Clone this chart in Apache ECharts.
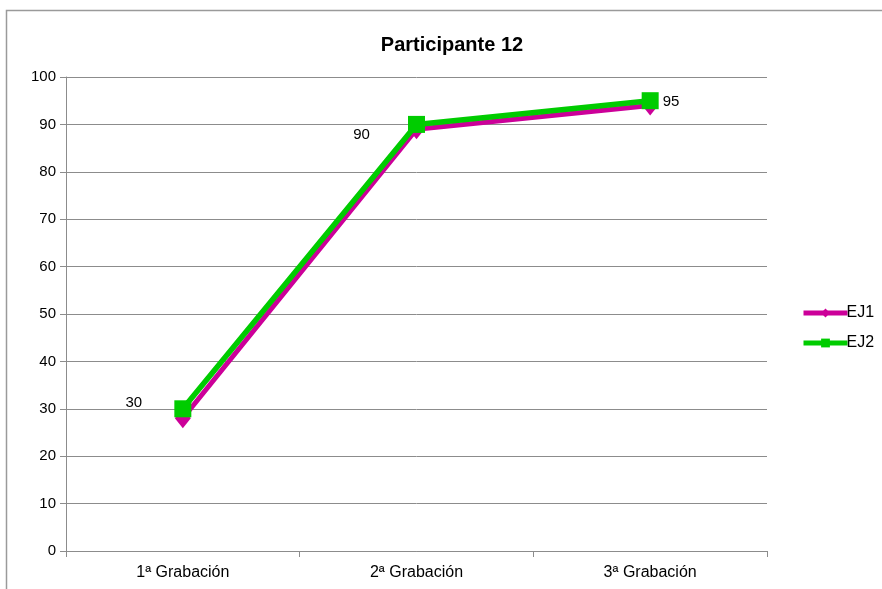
<!DOCTYPE html>
<html>
<head>
<meta charset="utf-8">
<script src="https://cdn.jsdelivr.net/npm/echarts@6/dist/echarts.min.js"></script>
<style>
  html, body { margin: 0; padding: 0; background: #fff; }
  #chart { width: 882px; height: 589px; }
</style>
</head>
<body>
<div id="chart"></div>
<script>
// Scores per recording session
const categories = ['1ª Grabación', '2ª Grabación', '3ª Grabación'];
const ej1Values = [28, 89, 94];
const ej2Values = [30, 90, 95];
const yTicks = { min: 0, max: 100, interval: 10 };

// Where each EJ2 value label sits relative to its point
const ej2LabelPlacement = [
  { position: 'inside', offset: [-49, -6] },
  { position: 'inside', offset: [-55, 10] },
  { position: 'right', offset: [-1, 1] }
];

const chart = echarts.init(document.getElementById('chart'));
const font = 'Liberation Sans, Arial, sans-serif';

chart.setOption({
  animation: false,
  backgroundColor: '#fff',
  textStyle: { fontFamily: font },
  graphic: [{
    type: 'rect',
    shape: { x: 6.5, y: 10.5, width: 1000, height: 1000 },
    style: { fill: 'none', stroke: '#9a9a9a', lineWidth: 1.5 },
    silent: true
  }],
  title: {
    text: 'Participante 12',
    left: 447, top: 30, textAlign: 'center',
    textStyle: { fontFamily: font, fontSize: 20, fontWeight: 'bold', color: '#000' }
  },
  legend: {
    orient: 'vertical',
    left: 796, top: 300,
    itemWidth: 44, itemHeight: 11, itemGap: 14,
    textStyle: { fontFamily: font, fontSize: 16, color: '#000', padding: [0, 0, 0, -6] },
    data: [
      { name: 'EJ1', lineStyle: { width: 5 } },
      { name: 'EJ2', lineStyle: { width: 5 } }
    ]
  },
  grid: { left: 66, right: 115, top: 77, bottom: 38 },
  xAxis: {
    type: 'category',
    data: categories,
    boundaryGap: true,
    axisLine: { lineStyle: { color: '#8c8c8c', width: 1 } },
    axisTick: { show: true, length: 6, lineStyle: { color: '#8c8c8c' } },
    axisLabel: { fontFamily: font, fontSize: 16, color: '#000', margin: 14 }
  },
  yAxis: {
    type: 'value',
    min: yTicks.min, max: yTicks.max, interval: yTicks.interval,
    axisLine: { show: true, lineStyle: { color: '#8c8c8c', width: 1 } },
    axisTick: { show: true, length: 6, lineStyle: { color: '#8c8c8c' } },
    axisLabel: { fontFamily: font, fontSize: 15, color: '#000', margin: 10 },
    splitLine: { lineStyle: { color: '#8c8c8c', width: 1 } }
  },
  series: [
    {
      name: 'EJ1',
      type: 'line',
      data: ej1Values,
      color: '#cc0099',
      lineStyle: { width: 5, color: '#cc0099' },
      symbol: 'diamond',
      symbolSize: [16, 20],
      itemStyle: { color: '#cc0099' },
      z: 2
    },
    {
      name: 'EJ2',
      type: 'line',
      data: ej2Values.map((v, i) => ({
        value: v,
        label: {
          show: true,
          position: ej2LabelPlacement[i].position,
          offset: ej2LabelPlacement[i].offset
        }
      })),
      color: '#00cc00',
      lineStyle: { width: 5.5, color: '#00cc00' },
      symbol: 'rect',
      symbolSize: 17,
      itemStyle: { color: '#00cc00' },
      label: { fontFamily: font, fontSize: 15, color: '#000' },
      z: 3
    }
  ]
});
</script>
</body>
</html>
